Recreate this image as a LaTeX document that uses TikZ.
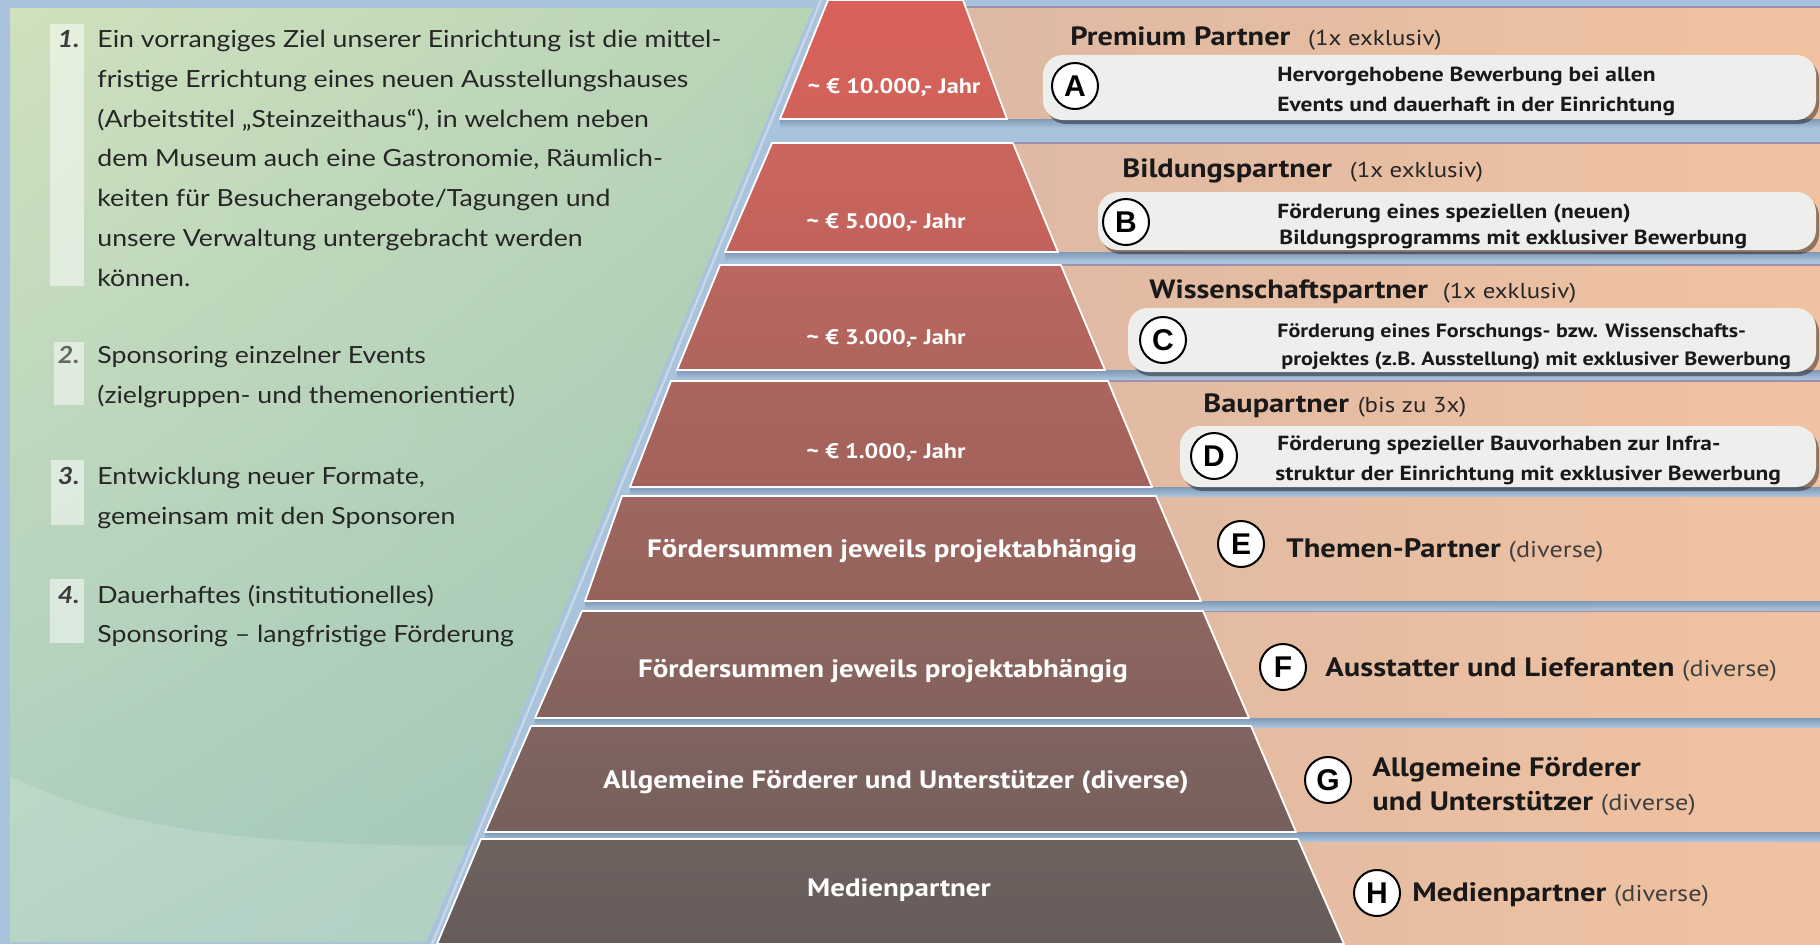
\documentclass[tikz,border=0pt]{standalone}
\usepackage{fontspec}
\setmainfont{Lato}[FakeStretch=1.13]
\newfontfamily\pts{PT Sans}[FakeStretch=1.15]
\newfontfamily\lib{Liberation Sans}
\usetikzlibrary{calc,shadings}
\definecolor{bgblue}{HTML}{A9C3DC}
\definecolor{gapdark}{HTML}{7F98B6}
\definecolor{grnA}{HTML}{CFE1BE}
\definecolor{grnB}{HTML}{9DC4B5}
\definecolor{grnC}{HTML}{B8D3B6}
\definecolor{grnD}{HTML}{ABCDBD}
\definecolor{peachL}{HTML}{DCB8A3}
\definecolor{peachR}{HTML}{F1C2A1}
\definecolor{bandline}{HTML}{9E8FAE}
\definecolor{boxfill}{HTML}{EEEEEC}
\definecolor{txt}{HTML}{262626}
\definecolor{numc}{HTML}{3C3C3C}
\definecolor{tA1}{HTML}{D9625B}\definecolor{tA2}{HTML}{D0625A}
\definecolor{tB1}{HTML}{CB655D}\definecolor{tB2}{HTML}{C2635B}
\definecolor{tC1}{HTML}{BA675F}\definecolor{tC2}{HTML}{B0645C}
\definecolor{tD1}{HTML}{AB655E}\definecolor{tD2}{HTML}{A2625B}
\definecolor{tE1}{HTML}{9E675F}\definecolor{tE2}{HTML}{94635C}
\definecolor{tF1}{HTML}{8E6660}\definecolor{tF2}{HTML}{85625D}
\definecolor{tG1}{HTML}{80645F}\definecolor{tG2}{HTML}{76605C}
\definecolor{tH1}{HTML}{6F615E}\definecolor{tH2}{HTML}{665C5A}
\begin{document}
\begin{tikzpicture}[x=0.5pt,y=-0.5pt,
  lt/.style={anchor=base west, inner sep=0pt, text=txt, font=\fontsize{11.8}{14}\selectfont},
  num/.style={anchor=base east, inner sep=0pt, text=numc, font=\bfseries\itshape\fontsize{11.8}{14}\selectfont},
  tlab/.style={anchor=base, inner sep=0pt, text=white, font=\pts\bfseries\fontsize{12.6}{13}\selectfont},
  tlabs/.style={anchor=base, inner sep=0pt, text=white, font=\pts\bfseries\fontsize{10.5}{11}\selectfont},
  ttl/.style={anchor=base west, inner sep=0pt, text=black!90, font=\pts\bfseries\fontsize{13.2}{13}\selectfont},
  sub/.style={anchor=base west, inner sep=0pt, text=black!85, font=\pts\fontsize{10.8}{11}\selectfont},
  desc/.style={anchor=base west, inner sep=0pt, text=black!90, font=\pts\bfseries\fontsize{10.2}{10}\selectfont},
  descn/.style={anchor=base west, inner sep=0pt, text=black!90, font=\pts\bfseries\fontsize{9.6}{10}\selectfont},
  big/.style={anchor=base west, inner sep=0pt, text=black!90, font=\pts\bfseries\fontsize{13.3}{14}\selectfont},
  div/.style={anchor=base west, inner sep=0pt, text=black!75, font=\pts\fontsize{11.4}{12}\selectfont},
  circ/.style={circle, draw=black, line width=1pt, fill=white, minimum size=23pt, inner sep=0pt, font=\lib\bfseries\fontsize{15}{15}\selectfont},
  boxshadow/.style={fill=black, opacity=0.4, rounded corners=10pt},
  lbox/.style={fill=boxfill, rounded corners=10pt},
  numbar/.style={fill=white, opacity=0.5},
  tierline/.style={draw=white, line width=0.9pt, line join=round}]
\useasboundingbox (0,0) rectangle (1820,944);
% background
\fill[bgblue] (0,0) rectangle (1820,944);
% green panel
\shade[upper left=grnA, upper right=grnC, lower left=grnD, lower right=grnB]
  (10,8) -- (813,8) -- (426,942) -- (10,942) -- cycle;
\fill[white, opacity=0.15] (10,776) .. controls (120,830) and (250,845) .. (467,846) -- (426,942) -- (10,942) -- cycle;
\draw[white, opacity=0.35, line width=1.2pt] (821,0) -- (432,944);
% bands (right side)
\foreach \t/\b in {7/119,143/252,265/370,381/487,496/601,611/718,726/832,839/944}{
  \shade[left color=peachL, right color=peachR] (900,\t) rectangle (1820,\b);
  \draw[bandline, line width=1pt] (900,\t) -- (1820,\t);
}
\foreach \b/\l in {119/780,252/725,370/677,487/630,601/585,718/535,832/485}{
  \shade[top color=gapdark, bottom color=bgblue] (\l,\b) rectangle (1820,\b+9);
}
% tiers
\shade[top color=tA1, bottom color=tA2] (828,0) -- (963,0) -- (1007,119) -- (780,119) -- cycle;
\draw[tierline] (828,0) -- (963,0) -- (1007,119) -- (780,119) -- cycle;
\shade[top color=tB1, bottom color=tB2] (772,143) -- (1013,143) -- (1058,252) -- (725,252) -- cycle;
\draw[tierline] (772,143) -- (1013,143) -- (1058,252) -- (725,252) -- cycle;
\shade[top color=tC1, bottom color=tC2] (720,265) -- (1061,265) -- (1105,370) -- (677,370) -- cycle;
\draw[tierline] (720,265) -- (1061,265) -- (1105,370) -- (677,370) -- cycle;
\shade[top color=tD1, bottom color=tD2] (671,381) -- (1108,381) -- (1152,487) -- (630,487) -- cycle;
\draw[tierline] (671,381) -- (1108,381) -- (1152,487) -- (630,487) -- cycle;
\shade[top color=tE1, bottom color=tE2] (622,496) -- (1156,496) -- (1201,601) -- (585,601) -- cycle;
\draw[tierline] (622,496) -- (1156,496) -- (1201,601) -- (585,601) -- cycle;
\shade[top color=tF1, bottom color=tF2] (582,611) -- (1203,611) -- (1249,718) -- (535,718) -- cycle;
\draw[tierline] (582,611) -- (1203,611) -- (1249,718) -- (535,718) -- cycle;
\shade[top color=tG1, bottom color=tG2] (531,726) -- (1251,726) -- (1296,832) -- (485,832) -- cycle;
\draw[tierline] (531,726) -- (1251,726) -- (1296,832) -- (485,832) -- cycle;
\shade[top color=tH1, bottom color=tH2] (481,839) -- (1298,839) -- (1344,944) -- (437,944) -- cycle;
\draw[tierline] (481,839) -- (1298,839) -- (1344,944) -- (437,944) -- cycle;
% tier labels
\node[tlabs] (p1) at (894,93) {\textasciitilde\ € 10.000,- Jahr};
\node[tlabs] (p2) at (886,228) {\textasciitilde\ € 5.000,- Jahr};
\node[tlabs] (p3) at (886,344) {\textasciitilde\ € 3.000,- Jahr};
\node[tlabs] (p4) at (886,458) {\textasciitilde\ € 1.000,- Jahr};
\node[tlab] (p5) at (892,557) {Fördersummen jeweils projektabhängig};
\node[tlab] (p6) at (883,677) {Fördersummen jeweils projektabhängig};
\node[tlab] (p7) at (896,788) {Allgemeine Förderer und Unterstützer (diverse)};
\node[tlab] (p8) at (899,896) {Medienpartner};
% white boxes
\fill[boxshadow] (1046,59) rectangle (1819,124);
\fill[lbox] (1043,55) rectangle (1816,120);
\fill[boxshadow] (1101,196) rectangle (1819,254);
\fill[lbox] (1098,192) rectangle (1816,250);
\fill[boxshadow] (1131,312) rectangle (1819,376);
\fill[lbox] (1128,308) rectangle (1816,372);
\fill[boxshadow] (1183,430) rectangle (1819,491);
\fill[lbox] (1180,426) rectangle (1816,487);
% titles
\node[ttl] (tA) at (1070,45) {Premium Partner};
\node[sub, xshift=8.5pt] (sA) at (tA.base east) {(1x exklusiv)};
\node[ttl] (tB) at (1122,177) {Bildungspartner};
\node[sub, xshift=8.5pt] (sB) at (tB.base east) {(1x exklusiv)};
\node[ttl] (tC) at (1149,298) {Wissenschaftspartner};
\node[sub, xshift=7pt] (sC) at (tC.base east) {(1x exklusiv)};
\node[ttl] (tD) at (1203,412) {Baupartner};
\node[sub, xshift=4pt] (sD) at (tD.base east) {(bis zu 3x)};
% circles
\node[circ] (cA) at (1075,86) {A};
\node[circ] (cB) at (1126,222) {B};
\node[circ] (cC) at (1163,340) {C};
\node[circ] (cD) at (1214,456) {D};
\node[circ] (cE) at (1241,544) {E};
\node[circ] (cF) at (1283,667) {F};
\node[circ] (cG) at (1328,780) {G};
\node[circ] (cH) at (1377,893) {H};
% descriptions
\node[desc] (dA1) at (1277,81) {Hervorgehobene Bewerbung bei allen};
\node[desc] (dA2) at (1277,111) {Events und dauerhaft in der Einrichtung};
\node[desc] (dB1) at (1277,218) {Förderung eines speziellen (neuen)};
\node[desc] (dB2) at (1279,244) {Bildungsprogramms mit exklusiver Bewerbung};
\node[descn] (dC1) at (1277,337) {Förderung eines Forschungs- bzw. Wissenschafts-};
\node[descn] (dC2) at (1281,365) {projektes (z.B. Ausstellung) mit exklusiver Bewerbung};
\node[desc] (dD1) at (1277,450) {Förderung spezieller Bauvorhaben zur Infra-};
\node[desc] (dD2) at (1275,480) {struktur der Einrichtung mit exklusiver Bewerbung};
% E-H labels
\node[big] (tE) at (1286,557) {Themen-Partner};
\node[div, xshift=3.5pt] (vE) at (tE.base east) {(diverse)};
\node[big] (tF) at (1325,676) {Ausstatter und Lieferanten};
\node[div, xshift=3.5pt] (vF) at (tF.base east) {(diverse)};
\node[big] (tG1) at (1372,776) {Allgemeine Förderer};
\node[big] (tG2) at (1372,810) {und Unterstützer};
\node[div, xshift=3.5pt] (vG) at (tG2.base east) {(diverse)};
\node[big] (tH) at (1412,901) {Medienpartner};
\node[div, xshift=3.5pt] (vH) at (tH.base east) {(diverse)};
% left list
\fill[numbar] (50,24) rectangle (84,286);
\fill[numbar] (54,342) rectangle (84,405);
\fill[numbar] (51,460) rectangle (84,525);
\fill[numbar] (50,579) rectangle (84,643);
\node[num] (n1) at (80,47) {1.};
\node[lt] (a1) at (97,47) {Ein vorrangiges Ziel unserer Einrichtung ist die mittel-};
\node[lt] (a2) at (97,87) {fristige Errichtung eines neuen Ausstellungshauses};
\node[lt] (a3) at (97,127) {(Arbeitstitel „Steinzeithaus“), in welchem neben};
\node[lt] (a4) at (97,166) {dem Museum auch eine Gastronomie, Räumlich-};
\node[lt] (a5) at (97,206) {keiten für Besucherangebote/Tagungen und};
\node[lt] (a6) at (97,246) {unsere Verwaltung untergebracht werden};
\node[lt] (a7) at (97,286) {können.};
\node[num, text=black!60] (n2) at (80,363) {2.};
\node[lt] (b1) at (97,363) {Sponsoring einzelner Events};
\node[lt] (b2) at (97,403) {(zielgruppen- und themenorientiert)};
\node[num] (n3) at (80,484) {3.};
\node[lt] (c1) at (97,484) {Entwicklung neuer Formate,};
\node[lt] (c2) at (97,524) {gemeinsam mit den Sponsoren};
\node[num] (n4) at (80,603) {4.};
\node[lt] (e1) at (97,603) {Dauerhaftes (institutionelles)};
\node[lt] (e2) at (97,642) {Sponsoring – langfristige Förderung};
\end{tikzpicture}
\end{document}
